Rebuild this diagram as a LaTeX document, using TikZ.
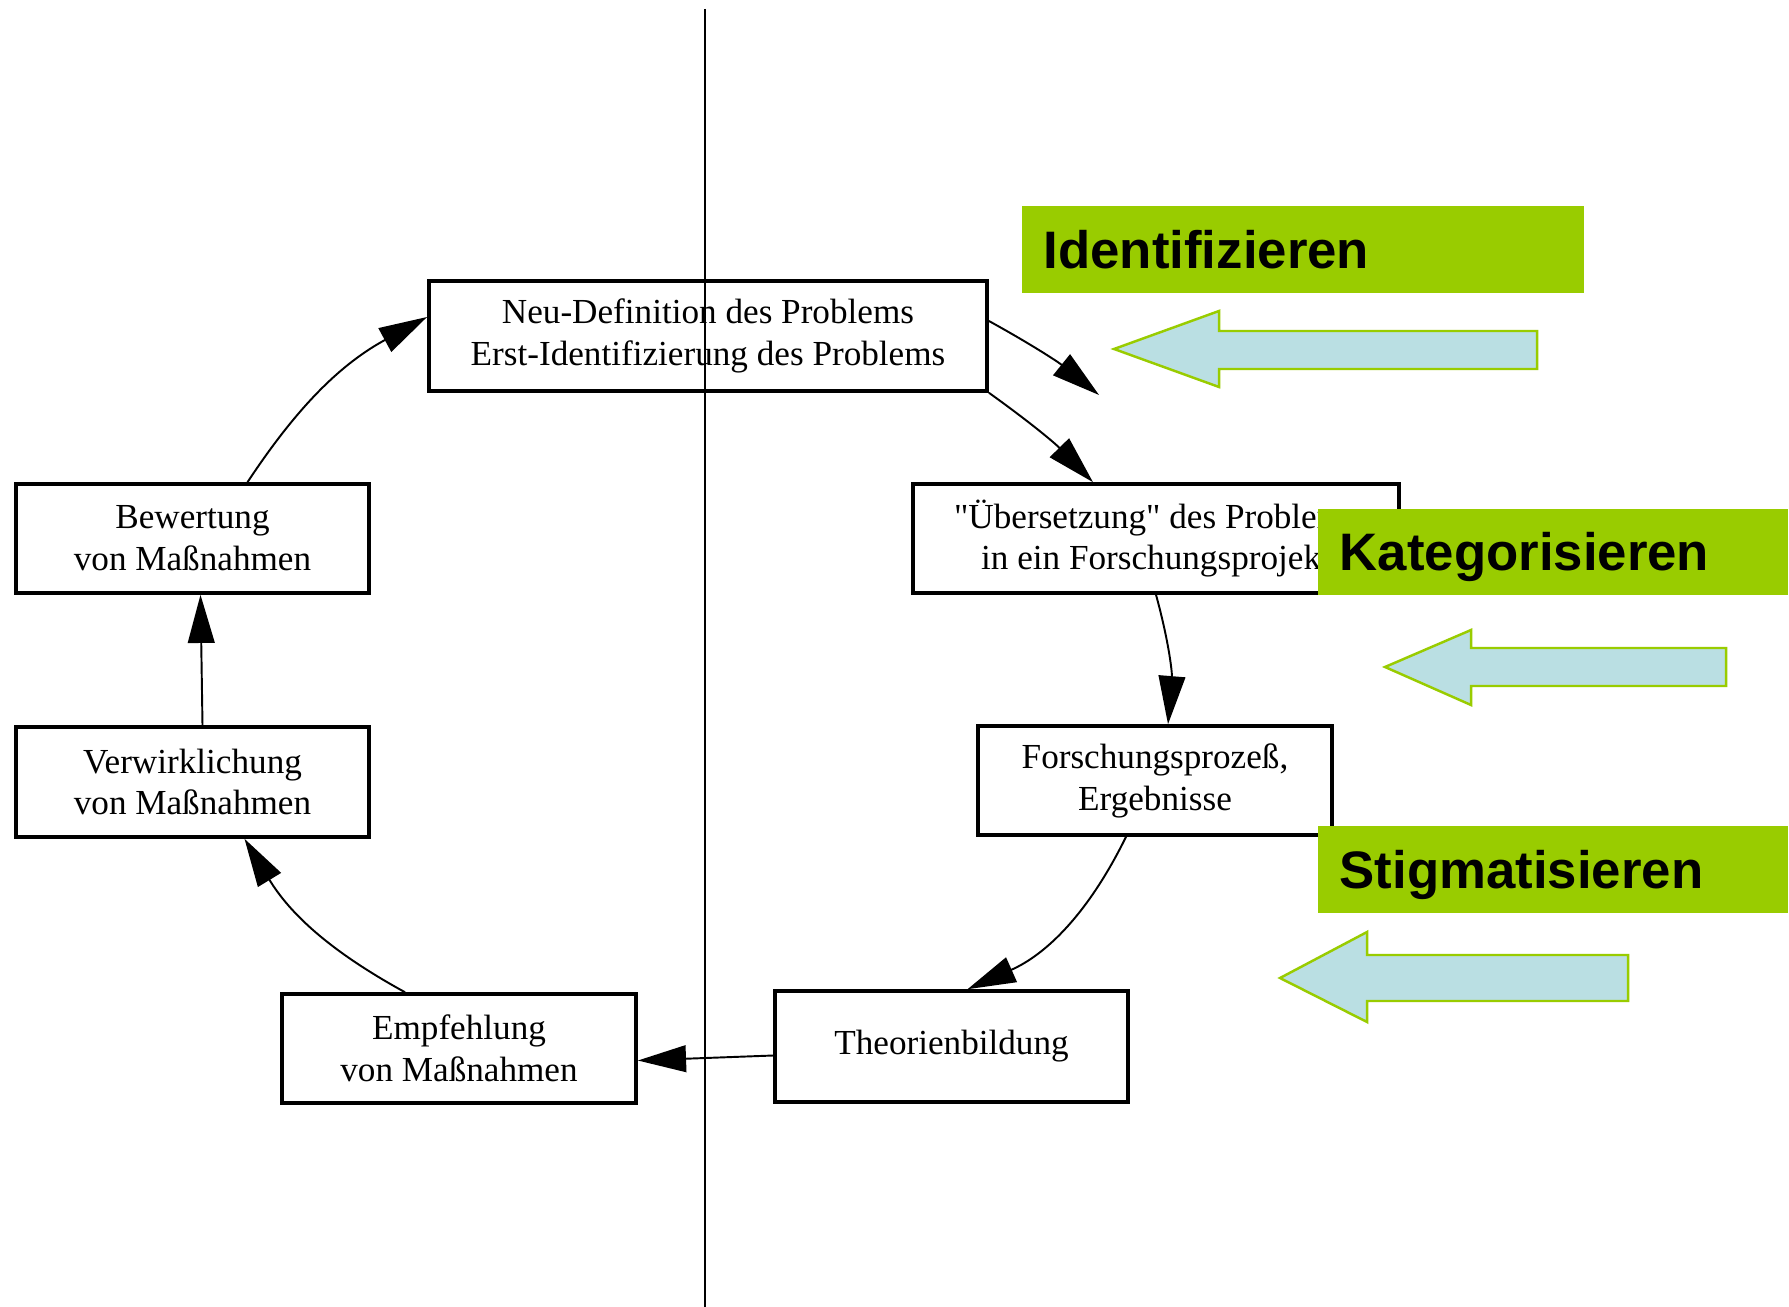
\documentclass[tikz,border=0pt]{standalone}
\usepackage{fontspec}
\setmainfont{Liberation Serif}
\newfontfamily\qfont{Liberation Serif}
\newfontfamily\labfont{Liberation Sans}
\usetikzlibrary{arrows.meta,calc}
\definecolor{lgreen}{HTML}{99CC00}
\definecolor{lblue}{HTML}{BADFE3}
\tikzset{
  stage/.style={draw=black, line width=1pt, inner sep=0pt, align=center,
    font=\fontsize{10}{11.9}\selectfont},
  conn/.style={line width=0.55pt, -{Triangle[length=13.7pt,width=7.6pt]}},
  gbox/.style={fill=lgreen, inner ysep=0pt, inner xsep=0.22cm, align=left,
    text height=0.38cm, text depth=0pt, anchor=north west,
    font=\labfont\bfseries\fontsize{15}{18}\selectfont},
  barrow/.style={fill=lblue, draw=lgreen, line width=0.7pt, line join=miter}
}
\begin{document}
\begin{tikzpicture}[x=0.01cm,y=-0.01cm]
\useasboundingbox (0,0) rectangle (1789,1307);
\fill[white] (0,0) rectangle (1789,1307);

% stages
\node[stage, minimum width=5.58cm, minimum height=1.10cm] (n1) at (708,336)
  {Neu-Definition des Problems\\Erst-Identifizierung des Problems};
\node[stage, minimum width=4.86cm, minimum height=1.09cm] (n2) at (1156,538.5)
  {{\qfont"}Übersetzung{\qfont"} des Problems\\in ein Forschungsprojekt};
\node[stage, minimum width=3.54cm, minimum height=1.09cm] (n3) at (1155,780.5)
  {Forschungsprozeß,\\Ergebnisse};
\node[stage, minimum width=3.53cm, minimum height=1.11cm] (n4) at (951.5,1046.5)
  {Theorienbildung};
\node[stage, minimum width=3.54cm, minimum height=1.09cm] (n5) at (459,1048.5)
  {Empfehlung\\von Maßnahmen};
\node[stage, minimum width=3.53cm, minimum height=1.10cm] (n6) at (192.5,782)
  {Verwirklichung\\von Maßnahmen};
\node[stage, minimum width=3.53cm, minimum height=1.09cm] (n7) at (192.5,538.5)
  {Bewertung\\von Maßnahmen};

% connectors
\coordinate (t1) at (1099,395);
\draw[conn] ($(n1.east)+(0,-15)$) to[bend left=5] (t1);
\draw[conn] (n1.south east) to[bend left=5] ($(n2.north)+(-63,0)$);
\draw[conn] (n2.south) to[bend left=10] ($(n3.north)+(13,0)$);
\draw[conn] ($(n3.south)+(-29,0)$) to[bend left=20] ($(n4.north)+(16,0)$);
\draw[conn] ($(n4.west)+(0,9)$) -- ($(n5.east)+(0,12)$);
\draw[conn] ($(n5.north)+(-54,0)$) to[bend left=15] ($(n6.south)+(52,0)$);
\draw[conn] ($(n6.north)+(10,0)$) -- ($(n7.south)+(8,0)$);
\draw[conn] ($(n7.north)+(55,0)$) to[bend left=14] ($(n1.west)+(0,-19)$);

% vertical divider
\coordinate (vtop) at (705,9);
\coordinate (vbot) at (705,1307);
\draw[line width=0.5pt] (vtop) -- (vbot);

% blue arrows
\draw[barrow] (1114,349) -- (1219,311) -- (1219,331) -- (1537,331) -- (1537,369)
  -- (1219,369) -- (1219,387) -- cycle;
\draw[barrow] (1385,667) -- (1471,630) -- (1471,648) -- (1726,648) -- (1726,686)
  -- (1471,686) -- (1471,705) -- cycle;
\draw[barrow] (1280,978) -- (1367,932) -- (1367,955) -- (1628,955) -- (1628,1001)
  -- (1367,1001) -- (1367,1022) -- cycle;

% green labels
\node[gbox, minimum width=5.62cm, minimum height=0.87cm, text width=5.18cm] (g1) at (1021,205) {Identifizieren};
\node[gbox, minimum width=4.70cm, minimum height=0.86cm, text width=4.26cm] (g2) at (1317,508) {Kategorisieren};
\node[gbox, minimum width=4.70cm, minimum height=0.87cm, text width=4.26cm] (g3) at (1317,825) {Stigmatisieren};
\end{tikzpicture}
\end{document}
